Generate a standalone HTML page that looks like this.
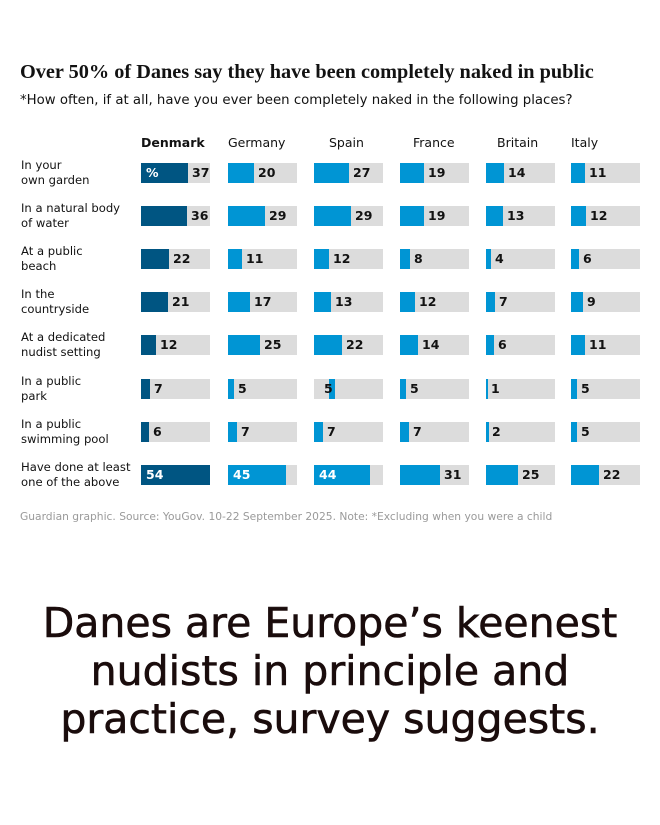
<!DOCTYPE html><html><head><meta charset="utf-8"><style>
body{margin:0;width:660px;height:825px;background:#fff;position:relative;font-family:"DejaVu Sans","Liberation Sans",sans-serif;overflow:hidden}
.a{position:absolute;white-space:nowrap}
.t{position:absolute;width:69px;height:20px;background:#dcdcdc}
.b{position:absolute;left:0;top:0;height:20px;background:#0095d4}
.d .b{background:#005582}
.v{position:absolute;top:0;line-height:20px;font-size:12.5px;font-weight:bold;color:#121212}
.w{color:#fff;left:5px}
.l{position:absolute;left:21px;font-size:11.6px;line-height:15px;color:#121212;white-space:nowrap}
.h{position:absolute;top:135px;font-size:12.5px;color:#121212}
</style></head><body>
<div class="a" style="left:20px;top:61px;font-family:'Liberation Serif','DejaVu Serif',serif;font-size:20.3px;font-weight:bold;color:#121212">Over 50% of Danes say they have been completely naked in public</div>
<div class="a" style="left:20px;top:93px;font-size:13.3px;color:#121212">*How often, if at all, have you ever been completely naked in the following places?</div>
<div class="h" style="left:141px;font-weight:bold">Denmark</div>
<div class="h" style="left:228px">Germany</div>
<div class="h" style="left:329px">Spain</div>
<div class="h" style="left:413px">France</div>
<div class="h" style="left:497px">Britain</div>
<div class="h" style="left:571px">Italy</div>

<div class="l" style="top:158px">In your<br>own garden</div>
<div class="l" style="top:201px">In a natural body<br>of water</div>
<div class="l" style="top:244px">At a public<br>beach</div>
<div class="l" style="top:287px">In the<br>countryside</div>
<div class="l" style="top:330px">At a dedicated<br>nudist setting</div>
<div class="l" style="top:374px">In a public<br>park</div>
<div class="l" style="top:417px">In a public<br>swimming pool</div>
<div class="l" style="top:460px">Have done at least<br>one of the above</div>

<div class="t d" style="left:141px;top:163px"><div class="b" style="width:47px"></div><span class="v w">%</span><span class="v" style="left:51px">37</span></div>
<div class="t" style="left:228px;top:163px"><div class="b" style="width:26px"></div><span class="v" style="left:30px">20</span></div>
<div class="t" style="left:314px;top:163px"><div class="b" style="width:35px"></div><span class="v" style="left:39px">27</span></div>
<div class="t" style="left:400px;top:163px"><div class="b" style="width:24px"></div><span class="v" style="left:28px">19</span></div>
<div class="t" style="left:486px;top:163px"><div class="b" style="width:18px"></div><span class="v" style="left:22px">14</span></div>
<div class="t" style="left:571px;top:163px"><div class="b" style="width:14px"></div><span class="v" style="left:18px">11</span></div>

<div class="t d" style="left:141px;top:206px"><div class="b" style="width:46px"></div><span class="v" style="left:50px">36</span></div>
<div class="t" style="left:228px;top:206px"><div class="b" style="width:37px"></div><span class="v" style="left:41px">29</span></div>
<div class="t" style="left:314px;top:206px"><div class="b" style="width:37px"></div><span class="v" style="left:41px">29</span></div>
<div class="t" style="left:400px;top:206px"><div class="b" style="width:24px"></div><span class="v" style="left:28px">19</span></div>
<div class="t" style="left:486px;top:206px"><div class="b" style="width:17px"></div><span class="v" style="left:21px">13</span></div>
<div class="t" style="left:571px;top:206px"><div class="b" style="width:15px"></div><span class="v" style="left:19px">12</span></div>

<div class="t d" style="left:141px;top:249px"><div class="b" style="width:28px"></div><span class="v" style="left:32px">22</span></div>
<div class="t" style="left:228px;top:249px"><div class="b" style="width:14px"></div><span class="v" style="left:18px">11</span></div>
<div class="t" style="left:314px;top:249px"><div class="b" style="width:15px"></div><span class="v" style="left:19px">12</span></div>
<div class="t" style="left:400px;top:249px"><div class="b" style="width:10px"></div><span class="v" style="left:14px">8</span></div>
<div class="t" style="left:486px;top:249px"><div class="b" style="width:5px"></div><span class="v" style="left:9px">4</span></div>
<div class="t" style="left:571px;top:249px"><div class="b" style="width:8px"></div><span class="v" style="left:12px">6</span></div>

<div class="t d" style="left:141px;top:292px"><div class="b" style="width:27px"></div><span class="v" style="left:31px">21</span></div>
<div class="t" style="left:228px;top:292px"><div class="b" style="width:22px"></div><span class="v" style="left:26px">17</span></div>
<div class="t" style="left:314px;top:292px"><div class="b" style="width:17px"></div><span class="v" style="left:21px">13</span></div>
<div class="t" style="left:400px;top:292px"><div class="b" style="width:15px"></div><span class="v" style="left:19px">12</span></div>
<div class="t" style="left:486px;top:292px"><div class="b" style="width:9px"></div><span class="v" style="left:13px">7</span></div>
<div class="t" style="left:571px;top:292px"><div class="b" style="width:12px"></div><span class="v" style="left:16px">9</span></div>

<div class="t d" style="left:141px;top:335px"><div class="b" style="width:15px"></div><span class="v" style="left:19px">12</span></div>
<div class="t" style="left:228px;top:335px"><div class="b" style="width:32px"></div><span class="v" style="left:36px">25</span></div>
<div class="t" style="left:314px;top:335px"><div class="b" style="width:28px"></div><span class="v" style="left:32px">22</span></div>
<div class="t" style="left:400px;top:335px"><div class="b" style="width:18px"></div><span class="v" style="left:22px">14</span></div>
<div class="t" style="left:486px;top:335px"><div class="b" style="width:8px"></div><span class="v" style="left:12px">6</span></div>
<div class="t" style="left:571px;top:335px"><div class="b" style="width:14px"></div><span class="v" style="left:18px">11</span></div>

<div class="t d" style="left:141px;top:379px"><div class="b" style="width:9px"></div><span class="v" style="left:13px">7</span></div>
<div class="t" style="left:228px;top:379px"><div class="b" style="width:6px"></div><span class="v" style="left:10px">5</span></div>
<div class="t" style="left:314px;top:379px"><div class="b" style="left:15px;width:6px"></div><span class="v" style="left:10px">5</span></div>
<div class="t" style="left:400px;top:379px"><div class="b" style="width:6px"></div><span class="v" style="left:10px">5</span></div>
<div class="t" style="left:486px;top:379px"><div class="b" style="width:2px"></div><span class="v" style="left:5px">1</span></div>
<div class="t" style="left:571px;top:379px"><div class="b" style="width:6px"></div><span class="v" style="left:10px">5</span></div>

<div class="t d" style="left:141px;top:422px"><div class="b" style="width:8px"></div><span class="v" style="left:12px">6</span></div>
<div class="t" style="left:228px;top:422px"><div class="b" style="width:9px"></div><span class="v" style="left:13px">7</span></div>
<div class="t" style="left:314px;top:422px"><div class="b" style="width:9px"></div><span class="v" style="left:13px">7</span></div>
<div class="t" style="left:400px;top:422px"><div class="b" style="width:9px"></div><span class="v" style="left:13px">7</span></div>
<div class="t" style="left:486px;top:422px"><div class="b" style="width:3px"></div><span class="v" style="left:6px">2</span></div>
<div class="t" style="left:571px;top:422px"><div class="b" style="width:6px"></div><span class="v" style="left:10px">5</span></div>

<div class="t d" style="left:141px;top:465px"><div class="b" style="width:69px"></div><span class="v w">54</span></div>
<div class="t" style="left:228px;top:465px"><div class="b" style="width:58px"></div><span class="v w">45</span></div>
<div class="t" style="left:314px;top:465px"><div class="b" style="width:56px"></div><span class="v w">44</span></div>
<div class="t" style="left:400px;top:465px"><div class="b" style="width:40px"></div><span class="v" style="left:44px">31</span></div>
<div class="t" style="left:486px;top:465px"><div class="b" style="width:32px"></div><span class="v" style="left:36px">25</span></div>
<div class="t" style="left:571px;top:465px"><div class="b" style="width:28px"></div><span class="v" style="left:32px">22</span></div>

<div class="a" style="left:20px;top:510px;font-size:10.7px;color:#9a9a9a">Guardian graphic. Source: YouGov. 10-22 September 2025. Note: *Excluding when you were a child</div>

<div class="a" style="left:0;width:660px;top:599px;text-align:center;font-size:41px;line-height:48px;color:#1a0c0c;-webkit-text-stroke:0.6px #1a0c0c">Danes are Europe’s keenest<br>nudists in principle and<br>practice, survey suggests.</div>
</body></html>
